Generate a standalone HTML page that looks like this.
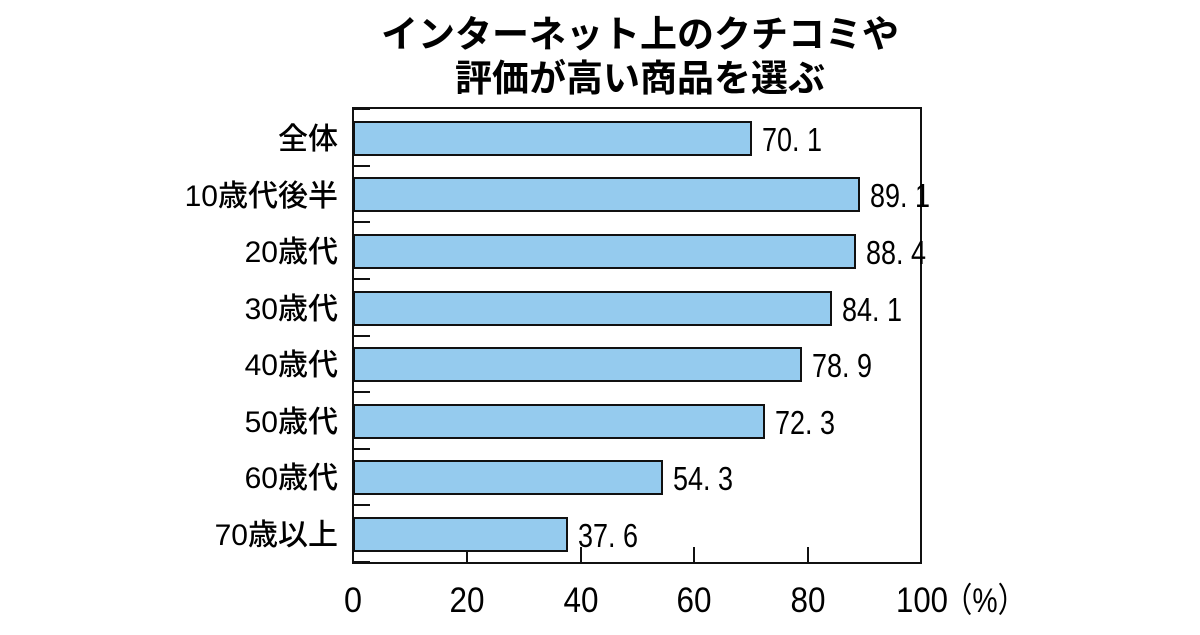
<!DOCTYPE html>
<html><head><meta charset="utf-8"><style>
body{margin:0;background:#fff;}
svg text{font-family:"Liberation Sans","Noto Sans CJK JP",sans-serif;}
</style></head><body>
<svg width="1200" height="630" xmlns="http://www.w3.org/2000/svg">
<text x="640" y="47" font-size="37" font-weight="bold" text-anchor="middle" font-family="Noto Sans CJK JP">インターネット上のクチコミや</text>
<text x="640" y="91" font-size="37" font-weight="bold" text-anchor="middle" font-family="Noto Sans CJK JP">評価が高い商品を選ぶ</text>
<rect x="353" y="108" width="568" height="455" fill="none" stroke="#111" stroke-width="2"/>
<g stroke="#111" stroke-width="2">
<line x1="467" y1="547" x2="467" y2="563"/><line x1="581" y1="547" x2="581" y2="563"/>
<line x1="694" y1="547" x2="694" y2="563"/><line x1="808" y1="547" x2="808" y2="563"/>
<line x1="353" y1="109" x2="370" y2="109"/>
<line x1="353" y1="166" x2="370" y2="166"/><line x1="353" y1="222" x2="370" y2="222"/>
<line x1="353" y1="279" x2="370" y2="279"/><line x1="353" y1="336" x2="370" y2="336"/>
<line x1="353" y1="392" x2="370" y2="392"/><line x1="353" y1="449" x2="370" y2="449"/>
<line x1="353" y1="505" x2="370" y2="505"/><line x1="353" y1="562" x2="370" y2="562"/>
</g>
<g fill="#95cbee" stroke="#111" stroke-width="2">
<rect x="354" y="122" width="397" height="33"/>
<rect x="354" y="178" width="505" height="33"/>
<rect x="354" y="235" width="501" height="33"/>
<rect x="354" y="292" width="477" height="33"/>
<rect x="354" y="348" width="447" height="33"/>
<rect x="354" y="405" width="410" height="33"/>
<rect x="354" y="461" width="308" height="33"/>
<rect x="354" y="518" width="213" height="33"/>
</g>
<g font-size="30" text-anchor="end" font-family="Noto Sans CJK JP" font-weight="500">
<text x="338" y="149">全体</text>
<text x="338" y="206">10歳代後半</text>
<text x="338" y="262">20歳代</text>
<text x="338" y="319">30歳代</text>
<text x="338" y="375">40歳代</text>
<text x="338" y="432">50歳代</text>
<text x="338" y="488">60歳代</text>
<text x="338" y="545">70歳以上</text>
</g>
<g font-size="33">
<text x="762" y="151" textLength="60" lengthAdjust="spacingAndGlyphs">70. 1</text>
<text x="870" y="207" textLength="60" lengthAdjust="spacingAndGlyphs">89. 1</text>
<text x="866" y="264" textLength="60" lengthAdjust="spacingAndGlyphs">88. 4</text>
<text x="842" y="321" textLength="60" lengthAdjust="spacingAndGlyphs">84. 1</text>
<text x="812" y="377" textLength="60" lengthAdjust="spacingAndGlyphs">78. 9</text>
<text x="775" y="434" textLength="60" lengthAdjust="spacingAndGlyphs">72. 3</text>
<text x="673" y="490" textLength="60" lengthAdjust="spacingAndGlyphs">54. 3</text>
<text x="578" y="547" textLength="60" lengthAdjust="spacingAndGlyphs">37. 6</text>
</g>
<g font-size="35" text-anchor="middle">
<text x="353" y="612" textLength="18" lengthAdjust="spacingAndGlyphs">0</text>
<text x="467" y="612" textLength="35" lengthAdjust="spacingAndGlyphs">20</text>
<text x="581" y="612" textLength="35" lengthAdjust="spacingAndGlyphs">40</text>
<text x="694" y="612" textLength="35" lengthAdjust="spacingAndGlyphs">60</text>
<text x="808" y="612" textLength="35" lengthAdjust="spacingAndGlyphs">80</text>
</g>
<text x="896" y="612" font-size="35" textLength="52" lengthAdjust="spacingAndGlyphs">100</text>
<text x="944" y="612" font-size="34" font-family="Noto Sans CJK JP" textLength="82" lengthAdjust="spacingAndGlyphs">（%）</text>
</svg>
</body></html>
